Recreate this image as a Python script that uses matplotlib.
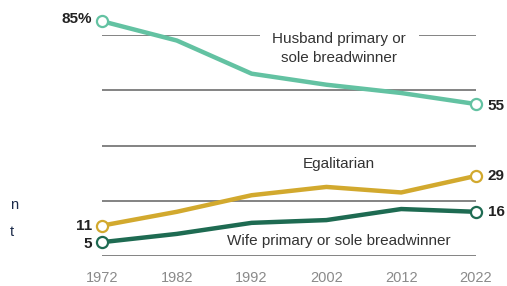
import matplotlib.pyplot as plt

plt.rcParams['font.family'] = ['Liberation Sans', 'DejaVu Sans']

years = [1972, 1982, 1992, 2002, 2012, 2022]
husband = [85, 78, 66, 62, 59, 55]
egalitarian = [11, 16, 22, 25, 23, 29]
wife = [5, 8, 12, 13, 17, 16]

c_husband = '#63c2a2'
c_egal = '#d2a92e'
c_wife = '#1e6b52'

W, H = 507, 286
fig = plt.figure(figsize=(W / 100, H / 100), dpi=100)
# axes: 1972 at x=102px, 2022 at x=476px; 0 at y=256px, 80 at y=35px
ax = fig.add_axes([102 / W, (H - 256) / H, (476 - 102) / W, (256 - 35) / H])
ax.set_xlim(1972, 2022)
ax.set_ylim(0, 80)

for g in [0, 20, 40, 60, 80]:
    ax.axhline(g, color='#7a7a7a', lw=1.3, zorder=1)

for vals, col in [(husband, c_husband), (egalitarian, c_egal), (wife, c_wife)]:
    ax.plot(years, vals, color=col, lw=3.2, zorder=3, clip_on=False,
            solid_capstyle='round', solid_joinstyle='round')
    ax.plot([years[0], years[-1]], [vals[0], vals[-1]], 'o', ms=8,
            mfc='white', mec=col, mew=1.6, zorder=4, clip_on=False)

# end labels
lab = dict(fontsize=11, fontweight='bold', color='#222222', va='center')
ax.text(1970.7, husband[0] + 0.8, '85%', ha='right', **lab)
ax.text(1970.7, egalitarian[0], str(egalitarian[0]), ha='right', **lab)
ax.text(1970.7, wife[0] - 0.7, str(wife[0]), ha='right', **lab)
ax.text(2023.6, husband[-1] - 0.6, str(husband[-1]), ha='left', **lab)
ax.text(2023.6, egalitarian[-1], str(egalitarian[-1]), ha='left', **lab)
ax.text(2023.6, wife[-1], str(wife[-1]), ha='left', **lab)

# series labels
ann = dict(fontsize=11, color='#333333', ha='center', va='center')
ax.text(2003.7, 75.2, 'Husband primary or\nsole breadwinner', linespacing=1.45,
        bbox=dict(facecolor='white', edgecolor='none', pad=9), zorder=2, **ann)
ax.text(2003.7, 33.3, 'Egalitarian', zorder=2, **ann)
ax.text(2003.7, 5.4, 'Wife primary or sole breadwinner', zorder=2, **ann)

ax.set_xticks(years)
ax.set_xticklabels([str(y) for y in years], color='#8a8a8a', fontsize=10.5)
ax.tick_params(axis='x', length=0, pad=11)
ax.set_yticks([])
for s in ax.spines.values():
    s.set_visible(False)

# cropped text at the left edge
fig.text(10 / W, 1 - 205 / H, 'n', fontsize=10.5, color='#1c2b4a', va='center')
fig.text(10 / W, 1 - 232 / H, 't', fontsize=10.5, color='#1c2b4a', va='center')

fig.savefig('out.png', dpi=100)
